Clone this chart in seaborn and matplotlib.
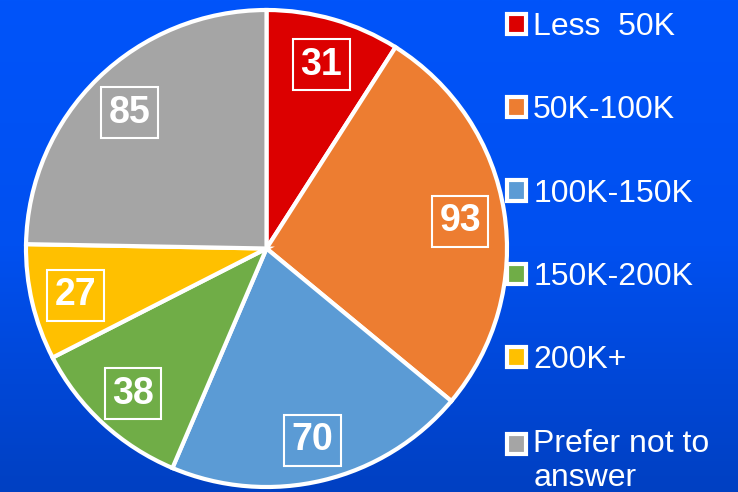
import numpy as np
import matplotlib
matplotlib.use("Agg")
import matplotlib.pyplot as plt
from matplotlib.colors import LinearSegmentedColormap
import seaborn as sns

# income brackets and counts
categories = ["Less  50K", "50K-100K", "100K-150K", "150K-200K", "200K+", "Prefer not to\nanswer"]
counts = [31, 93, 70, 38, 27, 85]
colors = ["#DC0000", "#ED7D31", "#5B9BD5", "#70AD47", "#FFC000", "#A5A5A5"]

sns.set_theme(style="white")
plt.rcParams['font.family'] = ['Liberation Sans', 'DejaVu Sans']

fig = plt.figure(figsize=(7.38, 4.92), dpi=100)

# blue gradient background
bg = fig.add_axes([0, 0, 1, 1], zorder=0)
grad = np.linspace(0, 1, 256).reshape(-1, 1)
cmap = LinearSegmentedColormap.from_list("bg", ["#0054FA", "#0050F0", "#0040C2"])
bg.imshow(grad, aspect="auto", cmap=cmap, extent=[0, 1, 0, 1], origin="upper")
bg.axis("off")

ax = fig.add_axes([26 / 738, 5 / 492, 481 / 738, 477 / 492], zorder=1)
ax.patch.set_alpha(0)
total = sum(counts)
wedges, _, autotexts = ax.pie(
    counts, colors=colors, startangle=90, counterclock=False,
    autopct=lambda p: f"{p * total / 100:.0f}", pctdistance=0.815,
    wedgeprops=dict(edgecolor="white", linewidth=3, clip_on=False),
    textprops=dict(color="white", fontsize=27, fontweight="bold"),
)
for t, c in zip(autotexts, colors):
    t.set_bbox(dict(boxstyle="square,pad=0.2", facecolor=c, edgecolor="white", linewidth=1.5))
    x, y = t.get_position()
    t.set_position((x, y - 0.012))
ax.set_aspect("auto")
ax.set_xlim(-1, 1)
ax.set_ylim(-1, 1)

leg = fig.legend(
    wedges, categories, loc="upper left", bbox_to_anchor=(507 / 738, 1 - 12 / 492),
    frameon=False, fontsize=23, labelcolor="white", labelspacing=1.67,
    handlelength=0.6, handleheight=0.6, handletextpad=0.22, borderpad=0, borderaxespad=0,
)
# two-line entry: put its square level with the first line
last = leg.legend_handles[-1]
last.set_y(last.get_y() + 12.5)

fig.savefig("out.png", dpi=100)
